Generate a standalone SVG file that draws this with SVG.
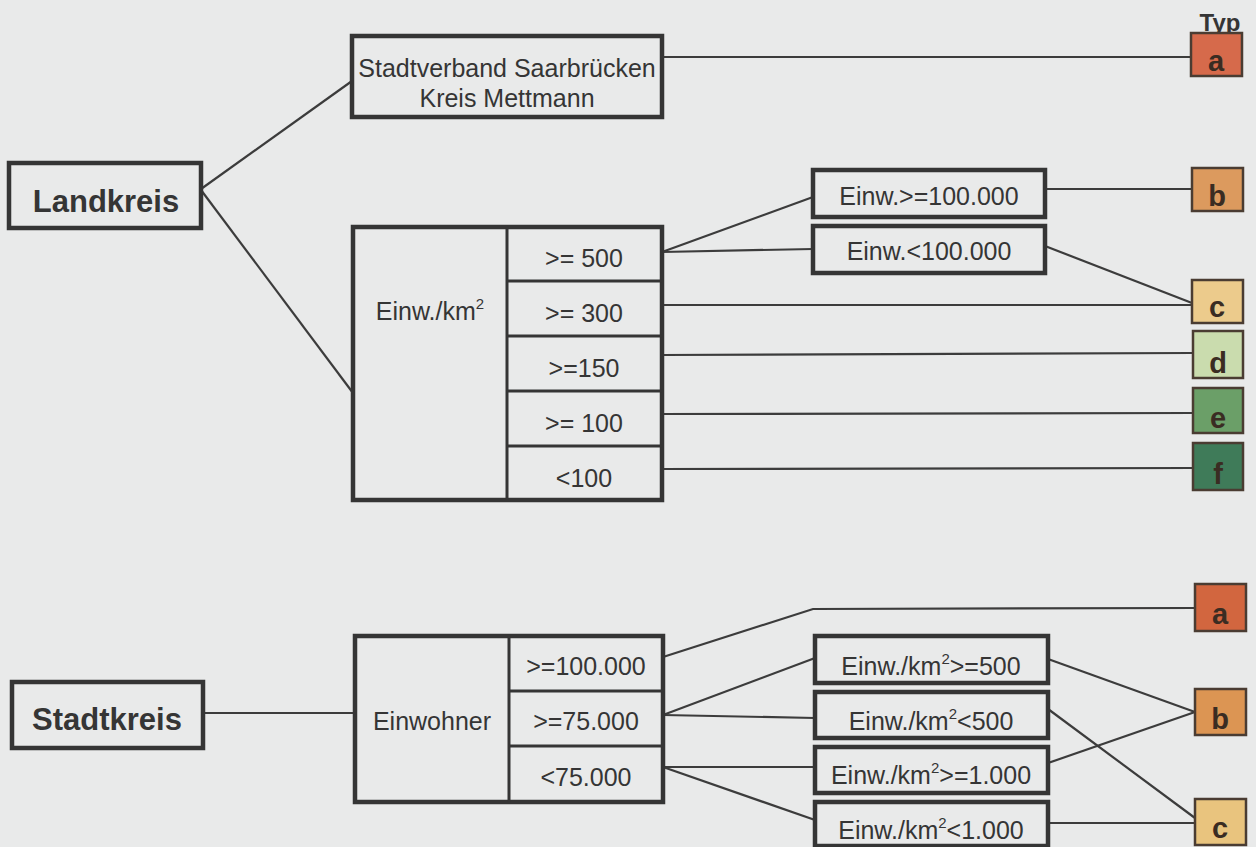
<svg xmlns="http://www.w3.org/2000/svg" width="1256" height="847" viewBox="0 0 1256 847">
<style>
.bg{fill:#e9eaea}
.box{fill:none;stroke:#353535;stroke-width:4.5}
.div{fill:none;stroke:#353535;stroke-width:3}
.con{fill:none;stroke:#3c3c3c;stroke-width:2.2}
.t{font-family:"Liberation Sans",Arial,sans-serif;font-size:25px;fill:#353535;text-anchor:middle}
.tb{font-family:"Liberation Sans",Arial,sans-serif;font-size:31px;font-weight:bold;fill:#353535;text-anchor:middle}
.typ{font-family:"Liberation Sans",Arial,sans-serif;font-size:24px;font-weight:bold;fill:#353535;text-anchor:middle}
.lt{font-family:"Liberation Sans",Arial,sans-serif;font-size:29px;font-weight:bold;fill:#3a2c22;text-anchor:middle}
.cb{stroke:#4a3c32;stroke-width:2.5}
.sup{font-size:15px}
</style>
<rect class="bg" x="0" y="0" width="1256" height="847"/>

<g id="connectors">
<line class="con" x1="201" y1="189" x2="352" y2="81"/>
<line class="con" x1="201" y1="190" x2="353" y2="393"/>
<line class="con" x1="662" y1="57" x2="1191" y2="57"/>
<line class="con" x1="662" y1="252" x2="813" y2="197"/>
<line class="con" x1="662" y1="252" x2="813" y2="249"/>
<line class="con" x1="1045" y1="189" x2="1192" y2="189"/>
<line class="con" x1="1045" y1="246" x2="1192" y2="303"/>
<line class="con" x1="662" y1="305" x2="1192" y2="305"/>
<line class="con" x1="662" y1="355" x2="1193" y2="353"/>
<line class="con" x1="662" y1="414" x2="1193" y2="413"/>
<line class="con" x1="662" y1="469" x2="1193" y2="468"/>
<line class="con" x1="203" y1="713" x2="355" y2="713"/>
<polyline class="con" points="663,657 813,609 1195,608"/>
<line class="con" x1="663" y1="715" x2="815" y2="658"/>
<line class="con" x1="663" y1="715" x2="815" y2="718"/>
<line class="con" x1="663" y1="767" x2="815" y2="767"/>
<line class="con" x1="663" y1="767" x2="815" y2="820"/>
<line class="con" x1="1048" y1="659" x2="1195" y2="712"/>
<line class="con" x1="1048" y1="709" x2="1195" y2="818"/>
<line class="con" x1="1048" y1="763" x2="1195" y2="712"/>
<line class="con" x1="1048" y1="823" x2="1195" y2="823"/>
</g>

<g id="typ-label"><text class="typ" x="1220" y="31">Typ</text></g>

<g id="landkreis">
<rect class="box" x="9" y="163" width="192" height="65"/>
<text class="tb" x="106" y="212">Landkreis</text>
</g>

<g id="stadtverband">
<rect class="box" x="352" y="36" width="310" height="81"/>
<text class="t" x="507" y="77" font-size="25.5">Stadtverband Saarbrücken</text>
<text class="t" x="507" y="107" font-size="25.5">Kreis Mettmann</text>
</g>

<g id="dichte-tabelle">
<rect class="box" x="353" y="227" width="309" height="273"/>
<line class="div" x1="507" y1="227" x2="507" y2="500"/>
<line class="div" x1="507" y1="281" x2="662" y2="281"/>
<line class="div" x1="507" y1="336" x2="662" y2="336"/>
<line class="div" x1="507" y1="391" x2="662" y2="391"/>
<line class="div" x1="507" y1="446" x2="662" y2="446"/>
<text class="t" x="430" y="320">Einw./km<tspan class="sup" dy="-11">2</tspan></text>
<text class="t" x="584" y="267">&gt;= 500</text>
<text class="t" x="584" y="322">&gt;= 300</text>
<text class="t" x="584" y="377">&gt;=150</text>
<text class="t" x="584" y="432">&gt;= 100</text>
<text class="t" x="584" y="487">&lt;100</text>
</g>

<g id="einw-gross"><rect class="box" x="813" y="170" width="232" height="47"/><text class="t" x="929" y="205">Einw.&gt;=100.000</text></g>
<g id="einw-klein"><rect class="box" x="813" y="226" width="232" height="47"/><text class="t" x="929" y="260">Einw.&lt;100.000</text></g>

<g id="typ-a1"><rect class="cb" fill="#d66a4b" x="1191" y="33" width="51" height="43"/><text class="lt" x="1216" y="71">a</text></g>
<g id="typ-b1"><rect class="cb" fill="#dc9a5e" x="1192" y="168" width="51" height="43"/><text class="lt" x="1217" y="206">b</text></g>
<g id="typ-c1"><rect class="cb" fill="#eccb8c" x="1192" y="280" width="51" height="43"/><text class="lt" x="1217" y="317">c</text></g>
<g id="typ-d"><rect class="cb" fill="#cadcae" x="1193" y="331" width="50" height="47"/><text class="lt" x="1218" y="373">d</text></g>
<g id="typ-e"><rect class="cb" fill="#6b9f68" x="1193" y="388" width="50" height="45"/><text class="lt" x="1218" y="428">e</text></g>
<g id="typ-f"><rect class="cb" fill="#3f7b59" x="1193" y="443" width="50" height="47"/><text class="lt" x="1218" y="484">f</text></g>

<g id="stadtkreis">
<rect class="box" x="12" y="682" width="191" height="66"/>
<text class="tb" x="107" y="730">Stadtkreis</text>
</g>

<g id="einwohner-tabelle">
<rect class="box" x="355" y="636" width="308" height="166"/>
<line class="div" x1="509" y1="636" x2="509" y2="802"/>
<line class="div" x1="509" y1="691" x2="663" y2="691"/>
<line class="div" x1="509" y1="746" x2="663" y2="746"/>
<text class="t" x="432" y="730">Einwohner</text>
<text class="t" x="586" y="675">&gt;=100.000</text>
<text class="t" x="586" y="730">&gt;=75.000</text>
<text class="t" x="586" y="786">&lt;75.000</text>
</g>

<g id="dichte-500-gross"><rect class="box" x="815" y="636" width="233" height="47"/><text class="t" x="931" y="675">Einw./km<tspan class="sup" dy="-11">2</tspan><tspan dy="11">&gt;=500</tspan></text></g>
<g id="dichte-500-klein"><rect class="box" x="815" y="692" width="233" height="46"/><text class="t" x="931" y="730">Einw./km<tspan class="sup" dy="-11">2</tspan><tspan dy="11">&lt;500</tspan></text></g>
<g id="dichte-1000-gross"><rect class="box" x="815" y="747" width="233" height="46"/><text class="t" x="931" y="784">Einw./km<tspan class="sup" dy="-11">2</tspan><tspan dy="11">&gt;=1.000</tspan></text></g>
<g id="dichte-1000-klein"><rect class="box" x="815" y="802" width="233" height="44"/><text class="t" x="931" y="839">Einw./km<tspan class="sup" dy="-11">2</tspan><tspan dy="11">&lt;1.000</tspan></text></g>

<g id="typ-a2"><rect class="cb" fill="#d2663f" x="1195" y="584" width="51" height="47"/><text class="lt" x="1220" y="624">a</text></g>
<g id="typ-b2"><rect class="cb" fill="#dc9553" x="1195" y="689" width="51" height="46"/><text class="lt" x="1220" y="729">b</text></g>
<g id="typ-c2"><rect class="cb" fill="#e9c47e" x="1195" y="799" width="51" height="46"/><text class="lt" x="1220" y="838">c</text></g>
</svg>
